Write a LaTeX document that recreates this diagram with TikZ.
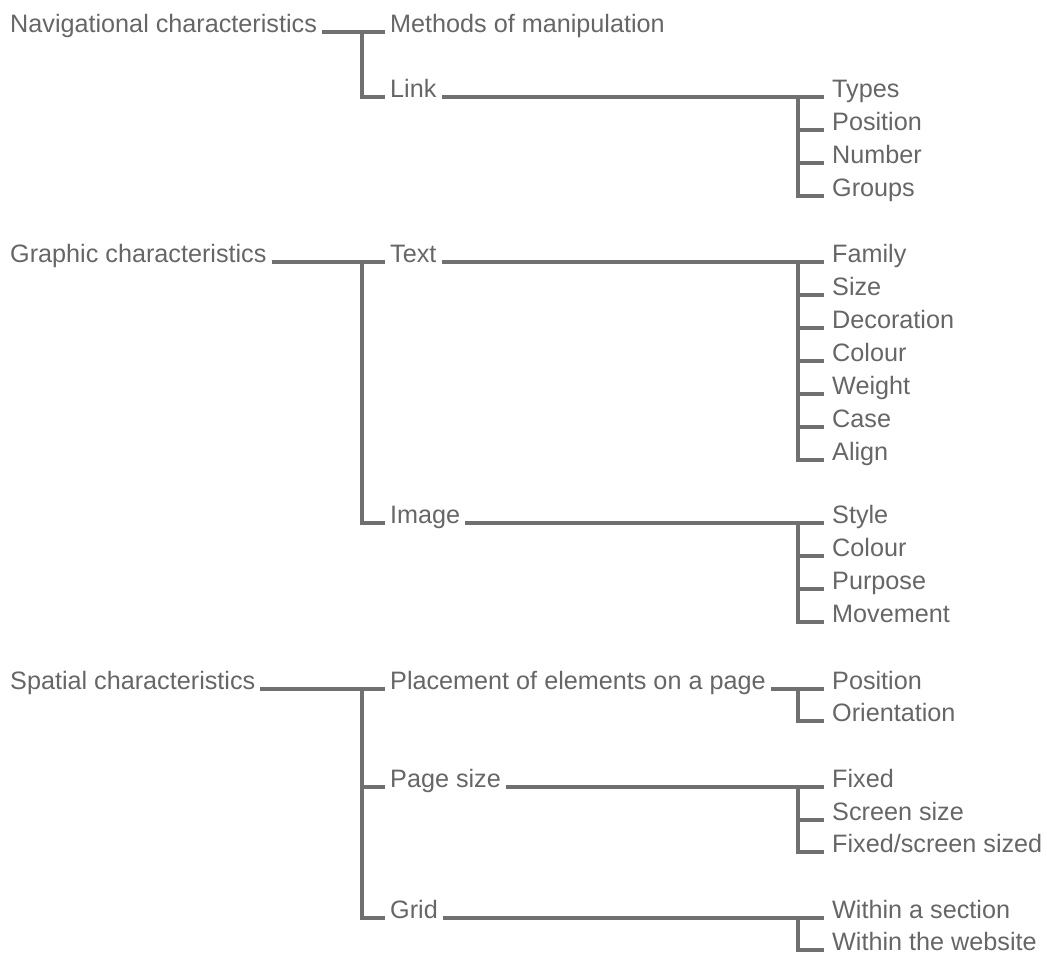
\documentclass[tikz,border=0pt]{standalone}
\usepackage{fontspec}
\setmainfont{Liberation Sans}
\usetikzlibrary{positioning}
\definecolor{txtgray}{RGB}{102,102,102}
\definecolor{linegray}{RGB}{112,112,112}

\begin{document}
\begin{tikzpicture}[
    x=1pt, y=-1pt,
    font=\fontsize{25.2}{29}\selectfont,
    item/.style={anchor=base west, inner sep=0pt, text=txtgray},
    conn/.style={draw=linegray, line width=3.3pt},
]
\useasboundingbox (0,0) rectangle (1047,954);

% Navigational characteristics
\node[item] (nav) at (10,32) {Navigational characteristics};
\node[item] (meth) at (390,32) {Methods of manipulation};
\node[item] (link) at (390,97) {Link};
\node[item] (ltypes) at (832,97) {Types};
\node[item] (lpos) at (832,130) {Position};
\node[item] (lnum) at (832,163) {Number};
\node[item] (lgrp) at (832,196) {Groups};

% Graphic characteristics
\node[item] (gra) at (10,262) {Graphic characteristics};
\node[item] (text) at (390,262) {Text};
\node[item] (tfam) at (832,262) {Family};
\node[item] (tsize) at (832,295) {Size};
\node[item] (tdec) at (832,328) {Decoration};
\node[item] (tcol) at (832,361) {Colour};
\node[item] (twei) at (832,394) {Weight};
\node[item] (tcase) at (832,427) {Case};
\node[item] (talign) at (832,460) {Align};
\node[item] (image) at (390,523) {Image};
\node[item] (istyle) at (832,523) {Style};
\node[item] (icol) at (832,556) {Colour};
\node[item] (ipur) at (832,589) {Purpose};
\node[item] (imov) at (832,622) {Movement};

% Spatial characteristics
\node[item] (spa) at (10,689) {Spatial characteristics};
\node[item] (place) at (390,689) {Placement of elements on a page};
\node[item] (ppos) at (832,689) {Position};
\node[item] (pori) at (832,721) {Orientation};
\node[item] (psize) at (390,787) {Page size};
\node[item] (sfix) at (832,787) {Fixed};
\node[item] (sscr) at (832,820) {Screen size};
\node[item] (sfs) at (832,852) {Fixed/screen sized};
\node[item] (grid) at (390,918) {Grid};
\node[item] (gsec) at (832,918) {Within a section};
\node[item] (gweb) at (832,950) {Within the website};

% First level branches
\draw[conn] ([xshift=5pt]nav.base east) -- ([xshift=-5pt]meth.base west);
\draw[conn] ([xshift=-28pt]meth.base west) |- ([xshift=-5pt]link.base west);
\draw[conn] ([xshift=5pt]gra.base east) -- ([xshift=-5pt]text.base west);
\draw[conn] ([xshift=-28pt]text.base west) |- ([xshift=-5pt]image.base west);
\draw[conn] ([xshift=5pt]spa.base east) -- ([xshift=-5pt]place.base west);
\draw[conn] ([xshift=-28pt]place.base west) |- ([xshift=-5pt]grid.base west);
\draw[conn] ([xshift=-28pt]psize.base west) -- ([xshift=-5pt]psize.base west);

% Second level branches
\draw[conn] ([xshift=5pt]link.base east) -- ([xshift=-8pt]ltypes.base west);
\draw[conn] ([xshift=-34pt]ltypes.base west) |- ([xshift=-8pt]lgrp.base west);
\draw[conn] ([xshift=5pt]text.base east) -- ([xshift=-8pt]tfam.base west);
\draw[conn] ([xshift=-34pt]tfam.base west) |- ([xshift=-8pt]talign.base west);
\draw[conn] ([xshift=5pt]image.base east) -- ([xshift=-8pt]istyle.base west);
\draw[conn] ([xshift=-34pt]istyle.base west) |- ([xshift=-8pt]imov.base west);
\draw[conn] ([xshift=5pt]place.base east) -- ([xshift=-8pt]ppos.base west);
\draw[conn] ([xshift=-34pt]ppos.base west) |- ([xshift=-8pt]pori.base west);
\draw[conn] ([xshift=5pt]psize.base east) -- ([xshift=-8pt]sfix.base west);
\draw[conn] ([xshift=-34pt]sfix.base west) |- ([xshift=-8pt]sfs.base west);
\draw[conn] ([xshift=5pt]grid.base east) -- ([xshift=-8pt]gsec.base west);
\draw[conn] ([xshift=-34pt]gsec.base west) |- ([xshift=-8pt]gweb.base west);

% Middle stubs
\foreach \c in {lpos, lnum, tsize, tdec, tcol, twei, tcase, icol, ipur, sscr}
    \draw[conn] ([xshift=-34pt]\c.base west) -- ([xshift=-8pt]\c.base west);

\end{tikzpicture}
\end{document}
